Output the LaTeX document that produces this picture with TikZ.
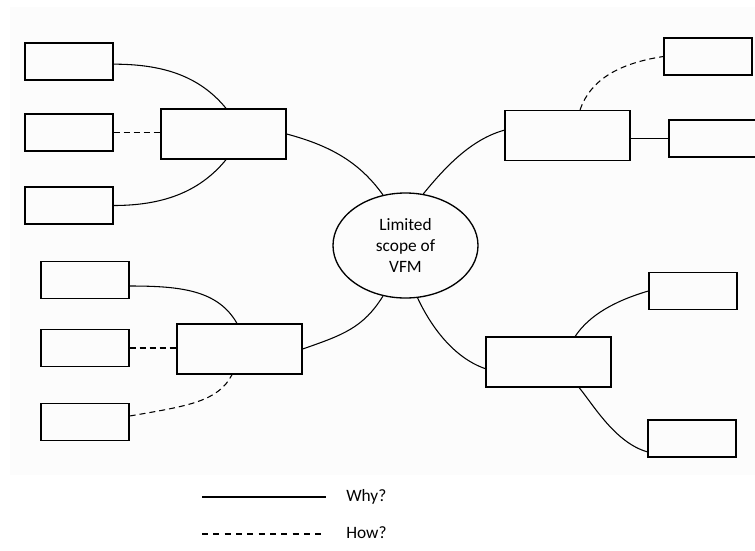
\documentclass[tikz,border=0pt]{standalone}
\usepackage{fontspec}
\setmainfont{Carlito}
\usetikzlibrary{shapes.geometric}

\tikzset{
  smallbox/.style={draw, line width=1pt, minimum width=66pt, minimum height=27.75pt, inner sep=0pt},
  midbox/.style={draw, line width=1pt, minimum width=93.75pt, minimum height=37.5pt, inner sep=0pt},
  why/.style={line width=0.8pt},
  how/.style={line width=0.8pt, dash pattern=on 4.5pt off 3pt},
  lbl/.style={font=\fontsize{13}{15.4}\selectfont},
}

\begin{document}
\begin{tikzpicture}[x=0.75pt,y=0.75pt,yscale=-1,xscale=1]
\useasboundingbox (0,0) rectangle (755,550);
%Shape: Rectangle (background)
\fill [black!1.2] (10,7) rectangle (755,475);
% Centre
\node [ellipse, draw, line width=1pt, minimum width=108.75pt, minimum height=78.75pt, inner sep=0pt, align=center, lbl] (vfm) at (405.5,245.5) {Limited\\scope of\\VFM};
% Upper left group
\node [midbox] (lc) at (223.5,134) {};
\node [smallbox] (l1) at (69,61.5) {};
\node [smallbox] (l2) at (69,132.5) {};
\node [smallbox] (l3) at (69,205.5) {};
% Lower left group
\node [midbox] (lc2) at (239.5,349) {};
\node [smallbox] (l4) at (85,280) {};
\node [smallbox] (l5) at (85,348) {};
\node [smallbox] (l6) at (85,422) {};
% Upper right group
\node [midbox] (rc) at (567.5,135.5) {};
\node [smallbox] (r1) at (708,56.5) {};
\node [smallbox] (r2) at (713,138.5) {};
% Lower right group
\node [midbox] (rc2) at (548.5,362) {};
\node [smallbox] (r3) at (693,291) {};
\node [smallbox] (r4) at (692,438.5) {};

%Curves: upper left
\draw [why] ([yshift=2pt]l1.east) .. controls +(48,0) and +(-27,-33) .. ([xshift=1.9pt]lc.north);
\draw [how] (l2.east) -- (lc.west |- l2.east);
\draw [why] (l3.east) .. controls +(48,0) and +(-27,33) .. ([xshift=1.9pt]lc.south);
\draw [why] (lc.east) .. controls +(45,12) and +(-23,-32) .. (vfm.114);
%Curves: lower left
\draw [why] ([yshift=4.5pt]l4.east) .. controls +(52,0) and +(-19,-33) .. ([xshift=-1.9pt]lc2.north);
\draw [how] (l5.east) -- (lc2.west |- l5.east);
\draw [how] ([yshift=-4.5pt]l6.east) .. controls +(58,-10) and +(-14,27) .. ([xshift=-5.6pt]lc2.south);
\draw [why] (lc2.east) .. controls +(40,-14) and +(-20,32) .. (vfm.246);
%Curves: upper right
\draw [why] (vfm.71) .. controls +(22,-27) and +(-33,9) .. ([yshift=-4pt]rc.west);
\draw [how] ([xshift=9.4pt]rc.north) .. controls +(10,-29) and +(-46,7) .. (r1.west);
\draw [why] (rc.east |- r2.west) -- (r2.west);
%Curves: lower right
\draw [why] (vfm.283) .. controls +(13,28) and +(-32,-11) .. ([yshift=5pt]rc2.west);
\draw [why] ([xshift=20pt]rc2.north) .. controls +(14,-21) and +(-34,10) .. (r3.west);
\draw [why] ([xshift=23pt]rc2.south) .. controls +(14,17) and +(-32,-9) .. ([yshift=10pt]r4.west);

% Legend
\coordinate (whyA) at (202,497);
\coordinate (whyB) at (326,497);
\coordinate (howA) at (202,534);
\coordinate (howB) at (326,534);
\draw [why] (whyA) -- (whyB);
\draw [how, dash pattern=on 4.5pt off 4pt] (howA) -- (howB);
\node [anchor=base west, inner sep=0pt, lbl] (whytxt) at (346,501) {Why?};
\node [anchor=base west, inner sep=0pt, lbl] (howtxt) at (346,538) {How?};
\end{tikzpicture}
\end{document}
